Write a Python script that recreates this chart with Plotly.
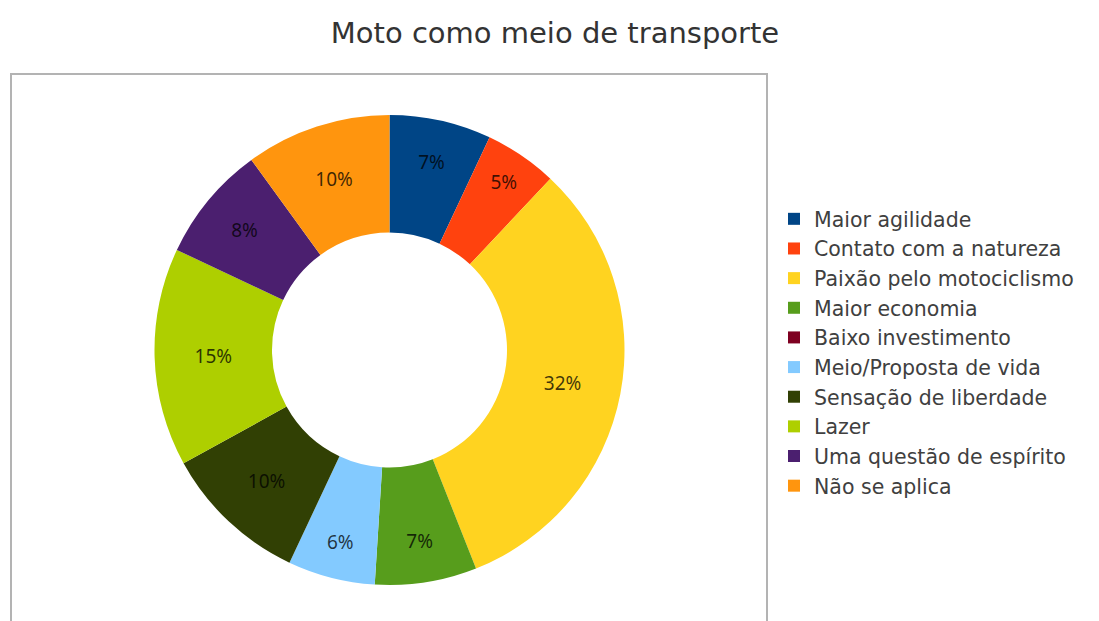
import plotly.graph_objects as go

categories = [
    "Maior agilidade",
    "Contato com a natureza",
    "Paixão pelo motociclismo",
    "Maior economia",
    "Baixo investimento",
    "Meio/Proposta de vida",
    "Sensação de liberdade",
    "Lazer",
    "Uma questão de espírito",
    "Não se aplica",
]
values = [7, 5, 32, 7, 0, 6, 10, 15, 8, 10]
colors = ["#004586", "#ff420e", "#ffd320", "#579d1c", "#7e0021",
          "#83caff", "#314004", "#aecf00", "#4b1f6f", "#ff950e"]
labels_text = [f"{v}%" if v else "" for v in values]

# page has an 8px body margin; work in figure coordinates
OFF = 8
W, H = 1099 - OFF, 621 - OFF
cx, cy, R = 389.5 - OFF, 350 - OFF, 235

fig = go.Figure(go.Pie(
    labels=categories,
    values=values,
    text=labels_text,
    textinfo="text",
    textposition="inside",
    insidetextorientation="horizontal",
    hole=0.5,
    sort=False,
    direction="clockwise",
    rotation=0,
    marker=dict(colors=colors, line=dict(width=0)),
    textfont=dict(family="Noto Sans", size=19, color="rgba(0,0,0,0.75)"),
    domain=dict(x=[(cx - R) / W, (cx + R) / W],
                y=[(H - cy - R) / H, (H - cy + R) / H]),
    hoverinfo="label+percent",
))

fig.update_layout(
    width=W, height=H,
    margin=dict(l=0, r=0, t=0, b=0),
    paper_bgcolor="white",
    plot_bgcolor="white",
    title=dict(text="Moto como meio de transporte", x=(555 - OFF) / W, xanchor="center",
               y=1 - (33 - OFF) / H, yanchor="middle",
               font=dict(family="DejaVu Sans", size=29, color="#333333")),
    legend=dict(x=(774 - OFF) / W, xanchor="left", y=1 - (199 - OFF) / H, yanchor="top",
                font=dict(family="DejaVu Sans", size=20.5, color="#404040"),
                bgcolor="rgba(0,0,0,0)", borderwidth=0, traceorder="normal"),
    shapes=[dict(type="rect", xref="paper", yref="paper",
                 x0=(11 - OFF) / W, x1=(767 - OFF) / W, y0=-0.05, y1=1 - (74 - OFF) / H,
                 line=dict(color="#b3b3b3", width=2), fillcolor="rgba(0,0,0,0)",
                 layer="below")],
)

fig.write_html("out.html")
